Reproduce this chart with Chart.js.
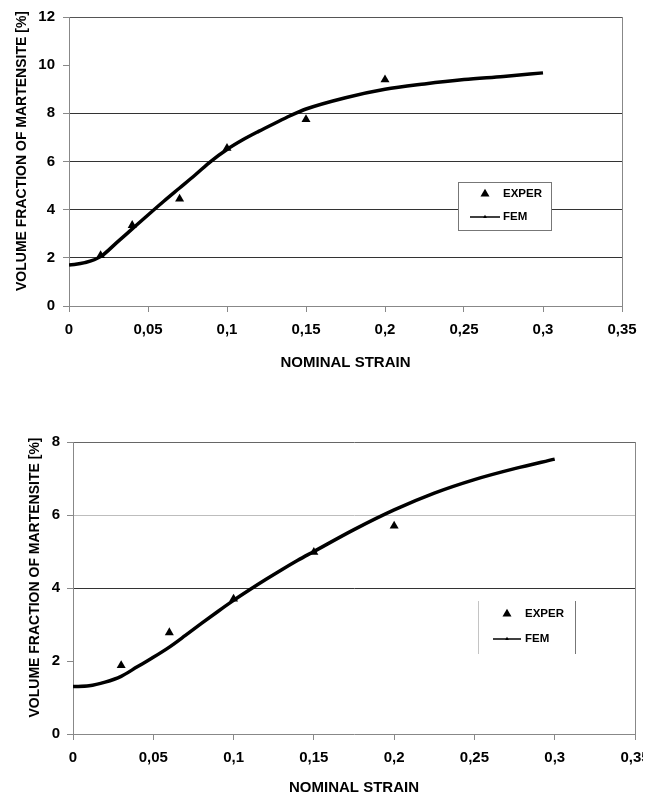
<!DOCTYPE html>
<html>
<head>
<meta charset="utf-8">
<script src="https://cdn.jsdelivr.net/npm/chart.js@4.4.1/dist/chart.umd.min.js"></script>
<style>
  html, body { margin: 0; padding: 0; background: #fff; }
  body { width: 656px; height: 798px; position: relative; overflow: hidden; }
  #wrapTop { position: absolute; left: 0; top: 0; width: 656px; height: 375px; }
  #wrapBot { position: absolute; left: 0; top: 380px; width: 643px; height: 418px; overflow: hidden; }
  canvas { display: block; }
</style>
</head>
<body>
<div id="wrapTop"><canvas id="c1" width="656" height="375"></canvas></div>
<div id="wrapBot"><canvas id="c2" width="656" height="418"></canvas></div>
<script>
// ---------- DATA ----------
const xTickLabelsStep = 0.05;

// Top chart
const topFemX   = [0, 0.01, 0.02, 0.03, 0.04, 0.05, 0.06, 0.07, 0.08, 0.09, 0.10, 0.11, 0.12, 0.13, 0.14, 0.15, 0.175, 0.20, 0.225, 0.25, 0.275, 0.30];
const topFemY   = [1.70, 1.80, 2.05, 2.62, 3.2, 3.78, 4.35, 4.9, 5.45, 6.02, 6.5, 6.9, 7.25, 7.58, 7.9, 8.18, 8.65, 9.0, 9.22, 9.4, 9.53, 9.68];
const topExpX   = [0.02, 0.04, 0.07, 0.10, 0.15, 0.20];
const topExpY   = [2.1, 3.35, 4.45, 6.55, 7.75, 9.4];

// Bottom chart
const botFemX   = [0, 0.01, 0.02, 0.03, 0.04, 0.05, 0.06, 0.07, 0.08, 0.09, 0.10, 0.11, 0.12, 0.13, 0.14, 0.15, 0.175, 0.20, 0.225, 0.25, 0.275, 0.30];
const botFemY   = [1.30, 1.32, 1.42, 1.58, 1.84, 2.1, 2.38, 2.7, 3.03, 3.35, 3.66, 3.95, 4.23, 4.5, 4.76, 5.0, 5.6, 6.14, 6.6, 6.97, 7.27, 7.53];
const botExpX   = [0.03, 0.06, 0.10, 0.15, 0.20];
const botExpY   = [1.88, 2.78, 3.7, 4.98, 5.7];

const seriesNames = ['EXPER', 'FEM'];
const xAxisTitle = 'NOMINAL STRAIN';
const yAxisTitle = 'VOLUME FRACTION OF MARTENSITE [%]';

// ---------- HELPERS ----------
const FONT = '"Liberation Sans", Arial, Helvetica, sans-serif';
Chart.defaults.font.family = FONT;
Chart.defaults.color = '#000';

const pts = (xs, ys) => xs.map((x, i) => ({ x: x, y: ys[i] }));
const fmtX = v => String(+(+v).toFixed(2)).replace('.', ',');

function tri(ctx, x, y, r) {
  ctx.beginPath();
  ctx.moveTo(x, y - r);
  ctx.lineTo(x + r * 0.866, y + r * 0.5);
  ctx.lineTo(x - r * 0.866, y + r * 0.5);
  ctx.closePath();
  ctx.fill();
}

const overlay = {
  id: 'overlay',
  afterDraw(chart, args, o) {
    const ctx = chart.ctx;
    // Y axis title
    ctx.save();
    ctx.translate(o.titleX, o.titleY);
    ctx.rotate(-Math.PI / 2);
    ctx.font = 'bold 14px ' + FONT;
    ctx.textAlign = 'center';
    ctx.textBaseline = 'middle';
    ctx.fillStyle = '#000';
    ctx.fillText(yAxisTitle, 0, 0);
    ctx.restore();
    // Legend
    const L = o.legend;
    ctx.save();
    if (L.box) {
      ctx.fillStyle = '#fff';
      ctx.fillRect(L.box[0], L.box[1], L.box[2], L.box[3]);
      ctx.strokeStyle = '#777';
      ctx.lineWidth = 1;
      ctx.strokeRect(L.box[0] + 0.5, L.box[1] + 0.5, L.box[2], L.box[3]);
    }
    if (L.sides) {
      ctx.lineWidth = 1;
      ctx.strokeStyle = '#c4c4c4';
      ctx.beginPath(); ctx.moveTo(L.sides[0] + 0.5, L.sides[2]); ctx.lineTo(L.sides[0] + 0.5, L.sides[3]); ctx.stroke();
      ctx.strokeStyle = '#777';
      ctx.beginPath(); ctx.moveTo(L.sides[1] + 0.5, L.sides[2]); ctx.lineTo(L.sides[1] + 0.5, L.sides[3]); ctx.stroke();
    }
    ctx.fillStyle = '#000';
    ctx.strokeStyle = '#000';
    tri(ctx, L.markX, L.y1, 5.2);
    ctx.lineWidth = 1.5;
    ctx.beginPath(); ctx.moveTo(L.lineX0, L.y2); ctx.lineTo(L.lineX1, L.y2); ctx.stroke();
    tri(ctx, L.markX, L.y2, 2.2);
    ctx.font = 'bold 11.5px ' + FONT;
    ctx.textAlign = 'left';
    ctx.textBaseline = 'middle';
    ctx.fillText(seriesNames[0], L.textX, L.y1);
    ctx.fillText(seriesNames[1], L.textX, L.y2);
    ctx.restore();
  }
};

function makeChart(id, cfg) {
  const datasets = [
    {
      label: seriesNames[1],
      data: pts(cfg.femX, cfg.femY),
      showLine: true,
      borderColor: '#000',
      backgroundColor: '#000',
      borderWidth: 3.5,
      pointRadius: 0,
      cubicInterpolationMode: 'monotone',
      order: 2
    },
    {
      label: seriesNames[0],
      data: pts(cfg.expX, cfg.expY),
      showLine: false,
      pointStyle: 'triangle',
      pointRadius: 5.2,
      pointBackgroundColor: '#000',
      pointBorderColor: '#000',
      pointBorderWidth: 0,
      order: 1
    }
  ];
  return new Chart(document.getElementById(id), {
    type: 'scatter',
    data: { datasets },
    options: {
      responsive: false,
      animation: false,
      events: [],
      layout: { padding: cfg.padding },
      plugins: {
        legend: { display: false },
        tooltip: { enabled: false },
        overlay: cfg.overlay
      },
      scales: {
        x: {
          type: 'linear',
          min: 0, max: 0.35,
          afterFit: s => { s.height = cfg.xHeight; s.paddingLeft = 0; s.paddingRight = 0; },
          ticks: {
            stepSize: xTickLabelsStep,
            callback: v => fmtX(v),
            font: { size: 15, weight: 'bold' },
            padding: 9,
            color: '#000'
          },
          grid: {
            drawOnChartArea: true,
            drawTicks: true,
            tickLength: 6,
            tickColor: '#888',
            color: c => (c.tick && Math.abs(c.tick.value - 0.35) < 1e-9) ? '#888' : 'rgba(0,0,0,0)'
          },
          border: { display: true, color: '#888', width: 1 },
          title: {
            display: true,
            text: xAxisTitle,
            font: { size: 15, weight: 'bold' },
            padding: { top: 0, bottom: cfg.xTitlePad },
            color: '#000'
          }
        },
        y: {
          type: 'linear',
          min: 0, max: cfg.yMax,
          afterFit: s => { s.width = cfg.yWidth; s.paddingTop = 0; s.paddingBottom = 0; },
          ticks: {
            stepSize: 2,
            font: { size: 15, weight: 'bold' },
            padding: cfg.yTickPad,
            color: '#000'
          },
          grid: {
            drawTicks: true,
            tickLength: 6,
            tickColor: '#888',
            color: c => cfg.gridColors[c.tick ? Math.round(c.tick.value) : 0] || 'rgba(0,0,0,0)'
          },
          border: { display: true, color: '#888', width: 1 },
          title: { display: false }
        }
      }
    },
    plugins: [overlay]
  });
}

// Top chart
makeChart('c1', {
  femX: topFemX, femY: topFemY, expX: topExpX, expY: topExpY,
  yMax: 12,
  padding: { top: 17, right: 34, left: 0, bottom: 0 },
  xHeight: 69, yWidth: 69, xTitlePad: 3, yTickPad: 8,
  gridColors: { 2: '#333', 4: '#333', 6: '#333', 8: '#333', 12: '#555' },
  overlay: {
    titleX: 22.5, titleY: 151,
    legend: { box: [458, 182, 93, 48], markX: 485, y1: 194, y2: 217, lineX0: 470, lineX1: 500, textX: 503 }
  }
});

// Bottom chart
makeChart('c2', {
  femX: botFemX, femY: botFemY, expX: botExpX, expY: botExpY,
  yMax: 8,
  padding: { top: 62, right: 21, left: 0, bottom: 0 },
  xHeight: 64, yWidth: 73, xTitlePad: 1, yTickPad: 7,
  gridColors: { 4: '#333', 6: '#bdbdbd', 8: '#666' },
  overlay: {
    titleX: 35, titleY: 197.5,
    legend: { sides: [478, 575, 221, 274], markX: 507, y1: 234, y2: 259, lineX0: 493, lineX1: 521, textX: 525 }
  }
});
</script>
</body>
</html>
